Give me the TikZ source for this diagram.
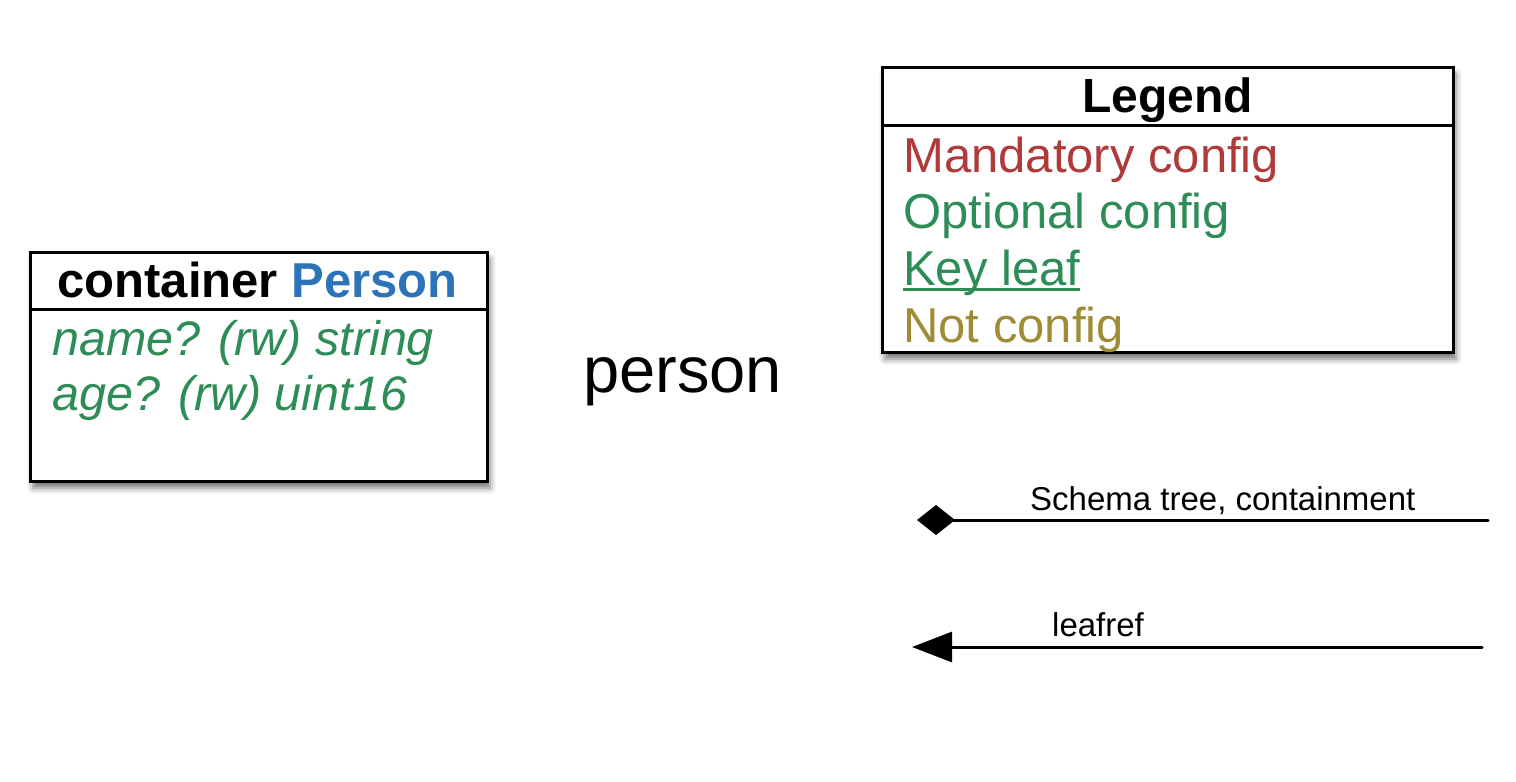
\documentclass[tikz,border=0pt]{standalone}
\usepackage{fontspec}
\setmainfont{Liberation Sans}
\usetikzlibrary{arrows.meta,shadows.blur}
\definecolor{mandred}{RGB}{176,58,58}
\definecolor{optgreen}{RGB}{46,140,87}
\definecolor{nameblue}{RGB}{45,115,185}
\definecolor{notolive}{RGB}{160,140,55}
\tikzset{
  umlbox/.style={draw=black, line width=3pt, fill=white, rectangle, inner sep=0pt,
    blur shadow={shadow xshift=3pt, shadow yshift=-7pt, shadow blur radius=6pt, shadow opacity=55}},
  divider/.style={draw=black, line width=3pt},
  txt/.style={inner sep=0pt, anchor=base west},
  big/.style={font=\fontsize{49}{57}\selectfont},
  lbl/.style={inner sep=0pt, anchor=base west, font=\fontsize{33}{38}\selectfont},
  conn/.style={line width=3pt, line cap=round},
}
\begin{document}
\begin{tikzpicture}[x=1pt,y=-1pt]
\useasboundingbox (0,0) rectangle (1516,782);
% container box
\node[umlbox, minimum width=457pt, minimum height=229pt] (cbox) at (258.5,366.5) {};
\coordinate (cdl) at (30,309);
\coordinate (cdr) at (487,309);
\draw[divider] (cdl) -- (cdr);
\node[inner sep=0pt, anchor=base, font=\fontsize{49}{57}\selectfont\bfseries] (ctitle) at (257.5,297) {container \textcolor{nameblue}{Person}};
\node[txt, text=optgreen, font=\fontsize{48.5}{57}\selectfont\itshape] (cname) at (52,355) {name? (rw) string};
\node[txt, text=optgreen, font=\fontsize{48.5}{57}\selectfont\itshape] (cage) at (52,410) {age? (rw) uint16};
% person label
\node[inner sep=0pt, anchor=base west, font=\fontsize{65}{75}\selectfont] (person) at (583,392) {person};
% legend box
\node[umlbox, minimum width=571pt, minimum height=285pt] (lbox) at (1167.5,209.5) {};
\coordinate (ldl) at (882,125);
\coordinate (ldr) at (1453,125);
\draw[divider] (ldl) -- (ldr);
\node[inner sep=0pt, anchor=base, font=\fontsize{48}{57}\selectfont\bfseries] (ltitle) at (1167.5,112) {Legend};
\node[txt, big, text=mandred] (lmand) at (903,172) {Mandatory config};
\node[txt, big, text=optgreen] (lopt) at (903,228) {Optional config};
\node[txt, big, text=optgreen] (lkey) at (903,285) {Key leaf};
\draw[optgreen, line width=3pt] ([yshift=-4pt]lkey.base west) -- ([yshift=-4pt]lkey.base east);
\node[txt, big, text=notolive] (lnot) at (903,342) {Not config};
% connectors
\coordinate (s1) at (1488,520);
\coordinate (s2) at (917,520);
\draw[conn, -{Diamond[length=38pt,width=30pt,line cap=butt]}] (s1) -- (s2);
\node[lbl] (slabel) at (1030,510) {Schema tree, containment};
\coordinate (r1) at (1482,647);
\coordinate (r2) at (912,647);
\draw[conn, -{Triangle[length=40pt,width=30pt,line cap=butt]}] (r1) -- (r2);
\node[lbl] (rlabel) at (1052,636) {leafref};
\end{tikzpicture}
\end{document}
